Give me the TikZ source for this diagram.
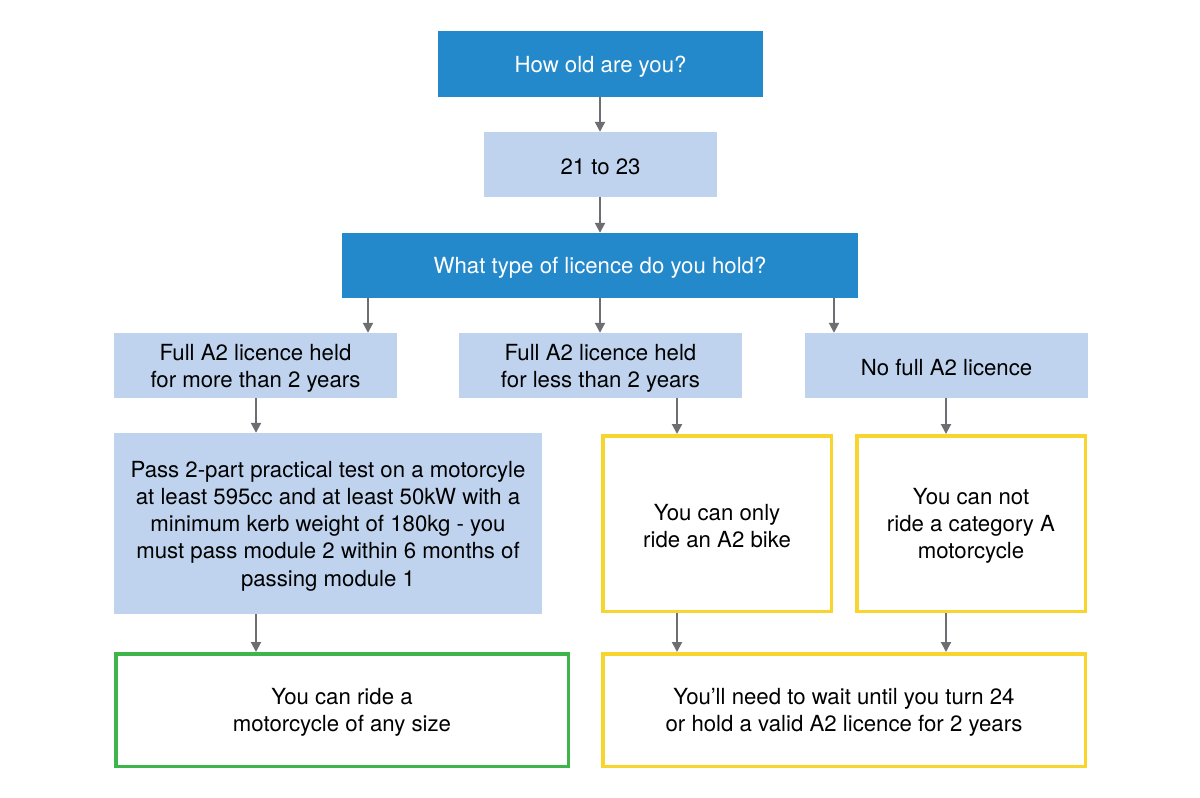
\documentclass[tikz,border=0pt]{standalone}
\usepackage{fontspec}
\setmainfont{TeX Gyre Heros}
\usetikzlibrary{arrows.meta}
\definecolor{dblue}{HTML}{2389CA}
\definecolor{lblue}{HTML}{BFD3EE}
\definecolor{yel}{HTML}{F8D52E}
\definecolor{grn}{HTML}{3DB54A}
\definecolor{arrgray}{HTML}{6D6E71}
\tikzset{
  base/.style={rectangle, inner sep=0pt},
  lbl/.style={inner sep=0pt, align=center, yshift=-2.5pt, font=\fontsize{22.2}{27.2}\selectfont},
  txt/.style={label={[lbl]center:{#1}}},
  wtxt/.style={label={[lbl,text=white]center:{#1}}},
  qbox/.style={base, fill=dblue},
  abox/.style={base, fill=lblue},
  ybox/.style={base, draw=yel, line width=3.5pt, fill=white},
  gbox/.style={base, draw=grn, line width=3.5pt, fill=white},
  arr/.style={draw=arrgray, line width=2pt, -{Triangle[width=10pt,length=10pt]}}
}
\begin{document}
\begin{tikzpicture}[x=1pt,y=-1pt]
\useasboundingbox[fill=white] (0,0) rectangle (1200,798);
\node[qbox, minimum width=325pt, minimum height=66pt, wtxt={How old are you?}] (q1) at (600.5,64) {};
\node[abox, minimum width=233pt, minimum height=65pt, txt={21 to 23}] (a1) at (600.5,164.5) {};
\node[qbox, minimum width=516pt, minimum height=65pt, wtxt={What type of licence do you hold?}] (q2) at (600,265.5) {};
\node[abox, minimum width=283pt, minimum height=65pt, txt={Full A2 licence held\\for more than 2 years}] (l1) at (255.5,365.5) {};
\node[abox, minimum width=283pt, minimum height=65pt, txt={Full A2 licence held\\for less than 2 years}] (l2) at (600.5,365.5) {};
\node[abox, minimum width=283pt, minimum height=65pt, txt={No full A2 licence}] (l3) at (946.5,365.5) {};
\node[abox, minimum width=428pt, minimum height=181pt, txt={Pass 2-part practical test on a motorcyle\\at least 595cc and at least 50kW with a\\minimum kerb weight of 180kg - you\\must pass module 2 within 6 months of\\passing module 1}] (p1) at (328,523.5) {};
\node[ybox, minimum width=228.5pt, minimum height=175.5pt, txt={You can only\\ride an A2 bike}] (y1) at (717,523.5) {};
\node[ybox, minimum width=228.5pt, minimum height=175.5pt, txt={You can not\\ride a category A\\motorcycle}] (y2) at (971,523.5) {};
\node[gbox, minimum width=452.5pt, minimum height=112.5pt, txt={You can ride a\\motorcycle of any size}] (g1) at (342,710) {};
\node[ybox, minimum width=482.5pt, minimum height=112.5pt, txt={You’ll need to wait until you turn 24\\or hold a valid A2 licence for 2 years}] (y3) at (844,710) {};
\coordinate (xa) at (368,0);
\coordinate (xb) at (600,0);
\coordinate (xc) at (834,0);
\coordinate (xd) at (256,0);
\coordinate (xe) at (677,0);
\coordinate (xf) at (946,0);
\draw[arr] (q1.south -| xb) -- (a1.north -| xb);
\draw[arr] (a1.south -| xb) -- (q2.north -| xb);
\draw[arr] (q2.south -| xa) -- (l1.north -| xa);
\draw[arr] (q2.south -| xb) -- (l2.north -| xb);
\draw[arr] (q2.south -| xc) -- (l3.north -| xc);
\draw[arr] (l1.south -| xd) -- (p1.north -| xd);
\draw[arr] (l2.south -| xe) -- (y1.north -| xe);
\draw[arr] (l3.south -| xf) -- (y2.north -| xf);
\draw[arr] (p1.south -| xd) -- (g1.north -| xd);
\draw[arr] (y1.south -| xe) -- (y3.north -| xe);
\draw[arr] (y2.south -| xf) -- (y3.north -| xf);
\end{tikzpicture}
\end{document}
